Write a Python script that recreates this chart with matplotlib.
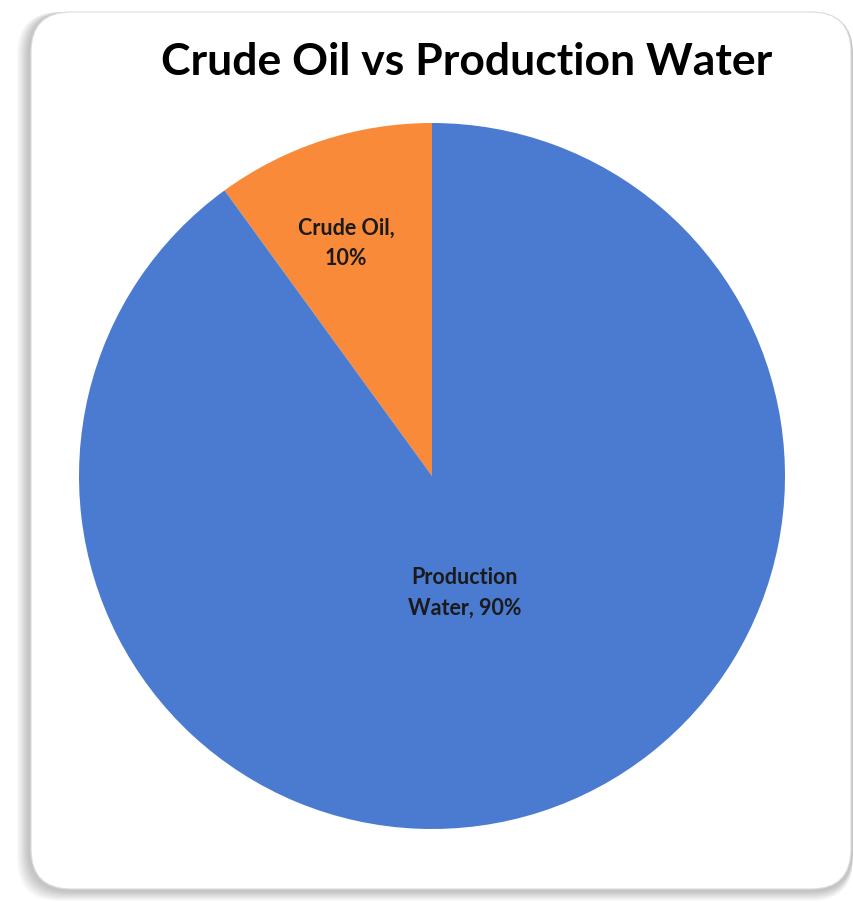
import matplotlib
matplotlib.use("Agg")
import matplotlib.pyplot as plt
from matplotlib.patches import FancyBboxPatch

# --- dados ---
categorias = ["Crude Oil", "Production Water"]
valores = [10, 90]
percentuais = ["10%", "90%"]
cores = ["#f88a3a", "#4a7bd1"]
titulo = "Crude Oil vs Production Water"

W, H = 854, 903
plt.rcParams['font.family'] = ['Lato', 'DejaVu Sans']

fig = plt.figure(figsize=(W / 100, H / 100), dpi=100)
fig.patch.set_facecolor("white")
ax = fig.add_axes([0, 0, 1, 1])


def py(y):
    # converte y do topo (pixels da imagem) para coordenadas do eixo
    return H - y


# --- moldura com sombra suave ---
for i in range(10):
    sombra = FancyBboxPatch((17 + i * 1.2, py(902) + i * 1.0), 836 - i * 1.2, 889 - i * 1.0,
                            boxstyle="round,pad=0,rounding_size=42",
                            facecolor="#000000", edgecolor="none", alpha=0.022, zorder=1)
    ax.add_patch(sombra)
moldura = FancyBboxPatch((31, py(890)), 820, 877,
                         boxstyle="round,pad=0,rounding_size=40",
                         facecolor="white", edgecolor="#dcdcdc", linewidth=0.8, zorder=2)
ax.add_patch(moldura)

# --- pizza ---
cx, cy, r = 432, py(477), 353
wedges, _ = ax.pie(valores, colors=cores, startangle=90, counterclock=True,
                   center=(cx, cy), radius=r, wedgeprops=dict(linewidth=0))
for w in wedges:
    w.set_zorder(3)

# posição dos rotulos (fração do raio, relativo ao centro), como no Excel
pos_rotulo = [(-0.244, 0.663), (0.093, -0.329)]
textos = [f"{categorias[0]},\n{percentuais[0]}", "Production\nWater, " + percentuais[1]]
for (dx, dy), t in zip(pos_rotulo, textos):
    ax.text(cx + dx * r, cy + dy * r, t,
            ha="center", va="center", fontsize=15.5, fontweight="bold",
            color="#1a1a1a", linespacing=1.55, zorder=4)

ax.text(467, py(62), titulo, ha="center", va="center", fontsize=32,
        fontweight="bold", color="black", zorder=4)

ax.set_xlim(0, W)
ax.set_ylim(0, H)
ax.set_aspect("equal")
ax.axis("off")

fig.savefig("out.png", dpi=100, facecolor="white")
